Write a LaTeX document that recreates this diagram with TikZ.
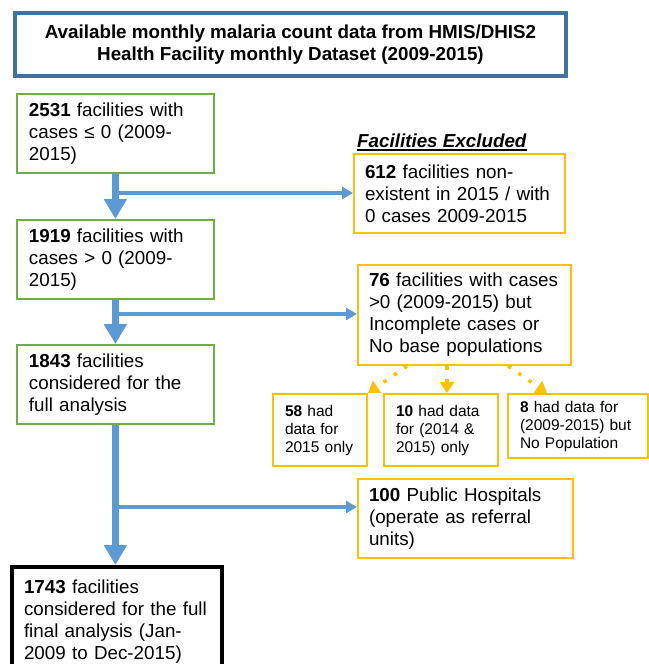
\documentclass[tikz,border=0pt]{standalone}
\usepackage{fontspec}
\setmainfont{Liberation Sans}
\usepackage{xcolor}
\usetikzlibrary{arrows.meta, positioning, calc}

\definecolor{headblue}{HTML}{41719C}
\definecolor{keepgreen}{HTML}{70AD47}
\definecolor{dropgold}{HTML}{FFC000}
\definecolor{flowblue}{HTML}{5B9BD5}

\newcommand{\bodytxt}{\fontsize{18.8pt}{22pt}\selectfont}
\newcommand{\subtxt}{\fontsize{15.5pt}{18pt}\selectfont}

\begin{document}
\begin{tikzpicture}[x=1pt, y=-1pt,
  titlebox/.style={draw=headblue, line width=4pt, align=center, inner xsep=10pt,
    inner ysep=0pt, anchor=north west, font=\bodytxt\bfseries},
  keepbox/.style={draw=keepgreen, line width=1.8pt, align=left, inner xsep=12pt,
    inner ysep=0pt, minimum height=79pt, anchor=north west, font=\bodytxt},
  finalbox/.style={draw=black, line width=4pt, align=left, inner xsep=12pt,
    inner ysep=0pt, anchor=north west, font=\bodytxt},
  dropbox/.style={draw=dropgold, line width=2pt, align=left, inner xsep=11pt,
    inner ysep=0pt, anchor=north west, font=\bodytxt},
  subbox/.style={draw=dropgold, line width=2pt, align=left, inner xsep=12pt,
    inner ysep=0pt, anchor=north west, font=\subtxt},
  mainflow/.style={draw=flowblue, line width=7pt, -{Triangle[length=20pt, width=22pt]}},
  sideflow/.style={draw=flowblue, line width=4pt, -{Triangle[length=11pt, width=12pt]}},
  splitflow/.style={draw=dropgold, line width=3.5pt, dash pattern=on 3.5pt off 9pt,
    -{Triangle[length=11pt, width=14pt]}}
]

  \useasboundingbox (0,0) rectangle (648,664);

  % Source data
  \node[titlebox, minimum width=551pt, minimum height=62.5pt] (src) at (13,11)
    {Available monthly malaria count data from HMIS/DHIS2\\Health Facility monthly Dataset (2009-2015)};

  % --- 1. Facilities kept ---
  \node[keepbox, text width=173pt] (b1) at (16,93)
    {\textbf{2531} facilities with\\cases ≤ 0 (2009-\\2015)};
  \node[keepbox, text width=173pt] (b2) at (16,219)
    {\textbf{1919} facilities with\\cases > 0 (2009-\\2015)};
  \node[keepbox, text width=173pt] (b3) at (16,344)
    {\textbf{1843} facilities\\considered for the\\full analysis};
  \node[finalbox, text width=186pt, minimum height=110pt] (b4) at (10,565)
    {\textbf{1743} facilities\\considered for the full\\final analysis (Jan-\\2009 to Dec-2015)};

  % --- 2. Facilities excluded ---
  \node[anchor=base west, inner sep=0pt, font=\bodytxt\bfseries\itshape] (exhd) at (357,147)
    {Facilities Excluded};
  \draw[line width=2pt] ([yshift=-2.5pt]exhd.base west) -- ([yshift=-2.5pt]exhd.base east);

  \node[dropbox, text width=189pt, minimum height=79pt] (ex1) at (353,153)
    {\textbf{612} facilities non-\\existent in 2015 / with\\0 cases 2009-2015};
  \node[dropbox, text width=191pt, minimum height=100pt] (ex2) at (357,264)
    {\textbf{76} facilities with cases\\>0 (2009-2015) but\\Incomplete cases or\\No base populations};
  \node[dropbox, text width=193pt, minimum height=79pt] (ex3) at (357,478)
    {\textbf{100} Public Hospitals\\(operate as referral\\units)};

  \node[subbox, text width=70pt, minimum height=72pt] (s1) at (272,393)
    {\textbf{58} had\\data for\\2015 only};
  \node[subbox, text width=90pt, minimum height=72pt] (s2) at (383,393)
    {\textbf{10} had data\\for (2014 \&\\2015) only};
  \node[subbox, text width=116pt, minimum height=64pt] (s3) at (507,393)
    {\textbf{8} had data for\\(2009-2015) but\\No Population};

  % --- 3. Flow ---
  \coordinate (j1) at (114.5,193);
  \coordinate (j2) at (114.5,314);
  \coordinate (j3) at (114.5,507);
  \draw[sideflow] (j1) -- (j1 -| ex1.west);
  \draw[sideflow] (j2) -- (j2 -| ex2.west);
  \draw[sideflow] (j3) -- (j3 -| ex3.west);

  \draw[mainflow] (b1) -- (b2);
  \draw[mainflow] (b2) -- (b3);
  \draw[mainflow] (b3) -- (b3 |- b4.north);

  % Split of the 76
  \coordinate (d1) at ($(ex2.south west)+(50,0)$);
  \coordinate (d2) at ($(ex2.south west)+(90,0)$);
  \coordinate (d3) at ($(ex2.south west)+(151,0)$);
  \coordinate (t3) at ($(s3.north west)+(40,0)$);
  \draw[splitflow] (d1) -- (s1.north east);
  \draw[splitflow] (d2) -- (d2 |- s2.north);
  \draw[splitflow] (d3) -- (t3);

\end{tikzpicture}
\end{document}
